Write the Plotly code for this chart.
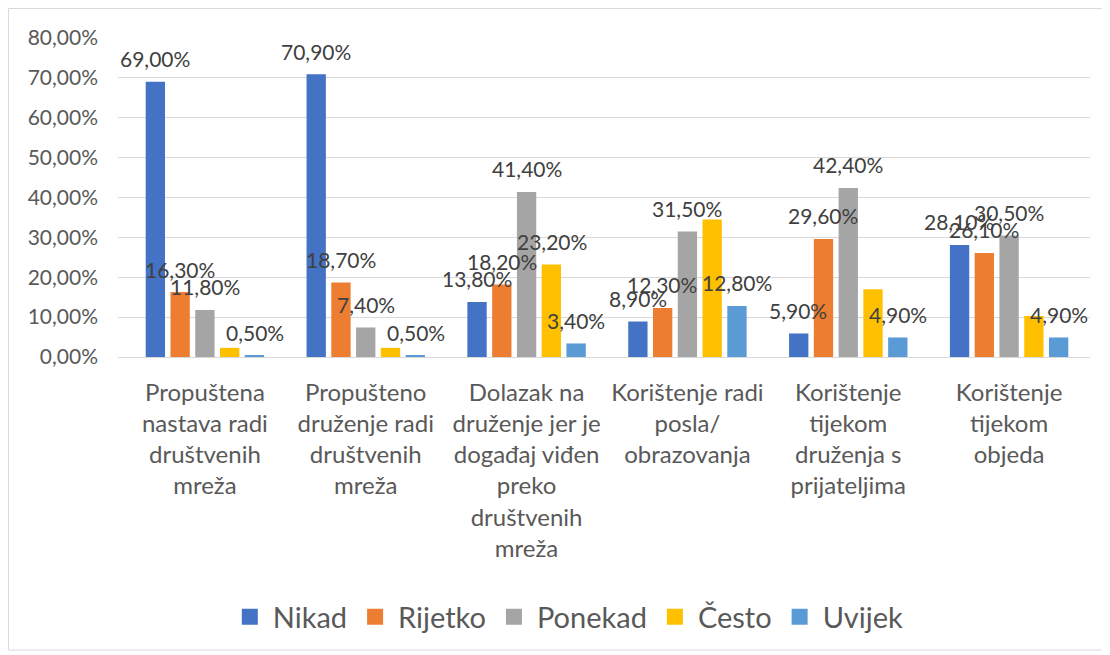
import plotly.graph_objects as go

# Categories (x axis) and the five answer series
categories = [
    "Propuštena<br>nastava radi<br>društvenih<br>mreža",
    "Propušteno<br>druženje radi<br>društvenih<br>mreža",
    "Dolazak na<br>druženje jer je<br>događaj viđen<br>preko<br>društvenih<br>mreža",
    "Korištenje radi<br>posla/<br>obrazovanja",
    "Korištenje<br>tijekom<br>druženja s<br>prijateljima",
    "Korištenje<br>tijekom<br>objeda",
]

nikad = [69.0, 70.9, 13.8, 8.9, 5.9, 28.1]
rijetko = [16.3, 18.7, 18.2, 12.3, 29.6, 26.1]
ponekad = [11.8, 7.4, 41.4, 31.5, 42.4, 30.5]
cesto = [2.3, 2.3, 23.2, 34.5, 17.0, 10.3]
uvijek = [0.5, 0.5, 3.4, 12.8, 4.9, 4.9]

# only one "Često" bar carries a data label in the original
cesto_label_shown = [False, False, True, False, False, False]

y_ticks = [0, 10, 20, 30, 40, 50, 60, 70, 80]

FONT = "Lato"
TEXT_GREY = "#595959"
LABEL_GREY = "#404040"
GRID = "#d9d9d9"

W, H = 1102, 647
M_L, M_R, M_T, M_B = 110, 20, 30, 298
BARGAP, GROUPGAP = 0.23, 0.22


def pct(v):
    return f"{v:.2f}%".replace(".", ",")


series = [
    ("Nikad", nikad, "#4472C4", [True] * 6),
    ("Rijetko", rijetko, "#ED7D31", [True] * 6),
    ("Ponekad", ponekad, "#A5A5A5", [True] * 6),
    ("Često", cesto, "#FFC000", cesto_label_shown),
    ("Uvijek", uvijek, "#5B9BD5", [True] * 6),
]

fig = go.Figure()

# pixel pitch of one bar slot inside a category group (for label placement)
cat_px = (W - M_L - M_R) / len(categories)
slot_px = cat_px * (1 - BARGAP) / len(series)

for i, (name, vals, color, shown) in enumerate(series):
    fig.add_trace(
        go.Bar(
            name=name,
            x=categories,
            y=vals,
            marker=dict(color=color, line=dict(width=0)),
            showlegend=False,
            hoverinfo="name+y",
        )
    )
    # legend entry with a big square swatch
    fig.add_trace(
        go.Scatter(
            name=name,
            x=[None],
            y=[None],
            mode="markers",
            marker=dict(symbol="square", size=16, color=color),
            showlegend=True,
        )
    )
    # data labels sit a little above the bar end, like the original
    for cat, v, s in zip(categories, vals, shown):
        if not s:
            continue
        fig.add_annotation(
            x=cat,
            y=v,
            text=pct(v),
            showarrow=False,
            xshift=(i - (len(series) - 1) / 2) * slot_px,
            yshift=23,
            font=dict(family=FONT, size=21, color=LABEL_GREY),
        )

fig.update_layout(
    width=W,
    height=H,
    barmode="group",
    bargap=BARGAP,
    bargroupgap=GROUPGAP,
    plot_bgcolor="white",
    paper_bgcolor="white",
    font=dict(family=FONT, color=TEXT_GREY),
    margin=dict(l=M_L, r=M_R, t=M_T, b=M_B),
    legend=dict(
        orientation="h",
        xref="container",
        yref="container",
        x=0.508,
        y=0.059,
        xanchor="center",
        yanchor="middle",
        font=dict(family=FONT, size=29, color=TEXT_GREY),
        itemwidth=36,
        traceorder="normal",
    ),
)

fig.update_yaxes(
    range=[0, 80],
    tickvals=y_ticks,
    ticktext=[pct(t) for t in y_ticks],
    showgrid=True,
    gridcolor=GRID,
    gridwidth=1,
    zeroline=False,
    showline=False,
    tickfont=dict(family=FONT, size=21, color=TEXT_GREY),
    ticks="",
    ticklabelstandoff=19,
)

fig.update_xaxes(
    showline=True,
    linecolor=GRID,
    linewidth=1,
    ticks="",
    tickangle=0,
    tickfont=dict(family=FONT, size=24, color=TEXT_GREY),
    ticklabelstandoff=14,
)

# light frame around the whole chart
fig.add_shape(
    type="rect",
    xref="paper",
    yref="paper",
    x0=-0.1127,
    x1=1.0144,
    y0=-0.9185,
    y1=1.0925,
    line=dict(color=GRID, width=1),
    fillcolor="rgba(0,0,0,0)",
    layer="below",
)

fig.write_html("out.html")
